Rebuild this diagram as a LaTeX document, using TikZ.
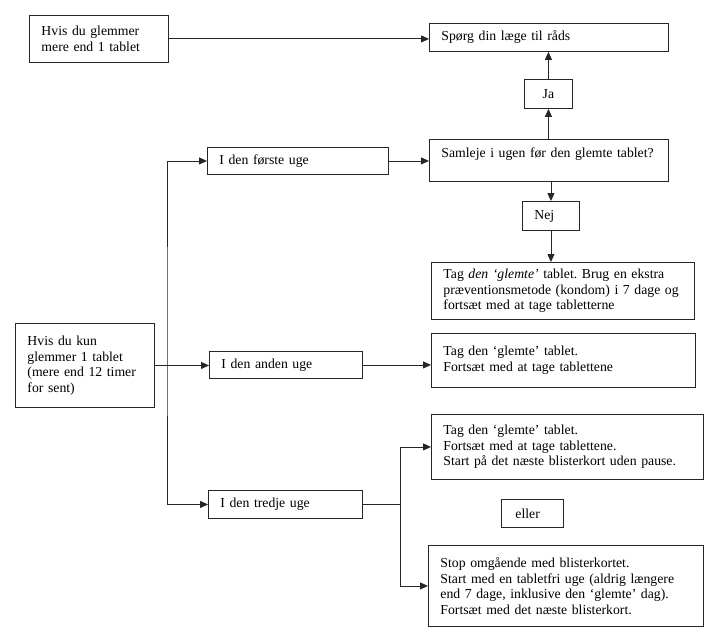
\documentclass[tikz,border=0pt]{standalone}
\usepackage{fontspec}
\setmainfont{Liberation Serif}
\usetikzlibrary{arrows.meta}
\frenchspacing
\begin{document}
\begin{tikzpicture}[x=1pt,y=-1pt,
  box/.style={draw=black!85, line width=0.9pt, rectangle, inner xsep=12pt, inner ysep=0pt,
    align=left, anchor=north west, font=\frenchspacing\fontsize{13.75pt}{15.5pt}\selectfont},
  line/.style={draw=black!85, line width=0.9pt},
  arr/.style={line, -{Triangle[length=8pt,width=7pt]}},
  darr/.style={line, {Triangle[length=8pt,width=7pt]}-{Triangle[length=8pt,width=7pt]}}]
\useasboundingbox (0,0) rectangle (710,634);
% boxes
\node[box, text width=115pt, minimum height=47pt] (A) at (29,15) {Hvis du glemmer\\mere end 1 tablet};
\node[box, text width=215pt, minimum height=28pt] (sporg) at (429,23) {Spørg din læge til råds};
\node[box, align=center, text width=24pt, minimum height=29pt] (ja) at (524,79) {Ja};
\node[box, text width=215pt, minimum height=42pt] (samleje) at (429,139) {Samleje i ugen før den glemte tablet?\\\mbox{}};
\node[box, text width=33pt, minimum height=29pt] (nej) at (522,201) {Nej};
\node[box, text width=239pt, minimum height=57pt] (tag) at (431,262) {Tag \textit{den ‘glemte’} tablet. Brug en ekstra\\præventionsmetode (kondom) i 7 dage og\\fortsæt med at tage tabletterne};
\node[box, text width=157pt, minimum height=27pt] (forste) at (207,147) {I den første uge};
\node[box, text width=115pt, minimum height=84pt] (kun) at (15,323) {Hvis du kun\\glemmer 1 tablet\\(mere end 12 timer\\for sent)};
\node[box, text width=129pt, minimum height=27pt] (anden) at (209,351) {I den anden uge};
\node[box, text width=240pt, minimum height=54pt] (andenres) at (431,333) {Tag den ‘glemte’ tablet.\\Fortsæt med at tage tablettene};
\node[box, text width=130pt, minimum height=28pt] (tredje) at (208,490) {I den tredje uge};
\node[box, text width=248pt, minimum height=65pt] (upper) at (431,414) {Tag den ‘glemte’ tablet.\\Fortsæt med at tage tablettene.\\Start på det næste blisterkort uden pause.};
\node[box, inner xsep=14pt, text width=34pt, minimum height=28pt] (eller) at (501,499) {eller};
\node[box, text width=251pt, minimum height=81pt] (lower) at (428,545) {Stop omgående med blisterkortet.\\Start med en tabletfri uge (aldrig længere\\end 7 dage, inklusive den ‘glemte’ dag).\\Fortsæt med det næste blisterkort.};
% helper coordinates
\coordinate (trunk) at (167,330);
\coordinate (branch) at (400,507);
% connectors
\draw[arr] (A.east) -- (A.east -| sporg.west);
\draw[arr] (ja.north) -- (ja.north |- sporg.south);
\draw[arr] (ja.south |- samleje.north) -- (ja.south);
\draw[arr] (nej.north |- samleje.south) -- (nej.north);
\draw[arr] (nej.south) -- (nej.south |- tag.north);
\draw[arr] (forste.east) -- (forste.east -| samleje.west);
\draw[darr] (forste.west) -| (trunk) |- (tredje.west);
\draw[arr] (kun.east) -- (kun.east -| anden.west);
\draw[arr] (anden.east) -- (anden.east -| andenres.west);
\draw[line] (tredje.east) -- (tredje.east -| branch);
\draw[arr] (tredje.east -| branch) |- (upper.west);
\draw[arr] (tredje.east -| branch) |- (lower.west);
\end{tikzpicture}
\end{document}
